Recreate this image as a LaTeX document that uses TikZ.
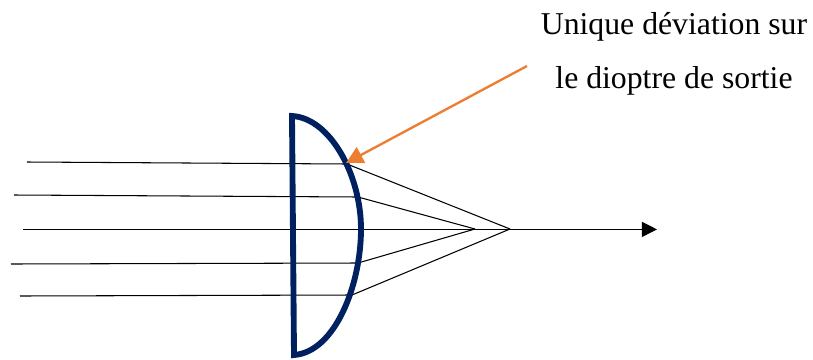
\documentclass[tikz,border=0pt]{standalone}
\usepackage{fontspec}
\setmainfont{Liberation Serif}
\usepackage{xcolor}
\definecolor{lensblue}{RGB}{0,32,96}
\definecolor{calloutorange}{RGB}{237,125,49}
\usetikzlibrary{arrows.meta}
\tikzset{
  ray/.style={black, line width=0.9pt},
  lensline/.style={lensblue, line width=5pt, miter limit=10},
  calloutarrow/.style={calloutorange, line width=2pt, -{Triangle[length=14.5pt, width=15pt]}},
  calloutlabel/.style={font=\fontsize{27.1pt}{30pt}\selectfont, inner sep=0pt, anchor=base}
}

\begin{document}
\begin{tikzpicture}[x=0.03cm, y=-0.03cm]
  \useasboundingbox (0,0) rectangle (813,359);

  % Points on the exit surface
  \coordinate (hit1) at (347,164);
  \coordinate (hit2) at (358,197);
  \coordinate (hit4) at (358,263);
  \coordinate (hit5) at (352,295);
  % Focal points
  \coordinate (focusnear) at (475,229);
  \coordinate (focusfar) at (510,229);

  % Incoming rays
  \coordinate (in1) at (27,162);
  \coordinate (in2) at (14,195);
  \coordinate (in3) at (23,229.4);
  \coordinate (in4) at (11,264);
  \coordinate (in5) at (20,296);
  \coordinate (axisend) at (657,229.4);
  \draw[ray] (in1) -- (hit1) -- (focusfar);
  \draw[ray] (in2) -- (hit2) -- (focusnear);
  \draw[ray] (in4) -- (hit4) -- (focusnear);
  \draw[ray] (in5) -- (hit5) -- (focusfar);
  \draw[ray, -{Triangle[length=13pt, width=13pt]}] (in3) -- (axisend);

  % Lens
  \draw[lensline] (292,116) .. controls (330,118) and (361,175) .. (361,229)
       .. controls (361,285) and (335,352) .. (294,355) -- cycle;

  % Callout
  \node[calloutlabel] (label1) at (674,34) {Unique déviation sur};
  \node[calloutlabel] (label2) at (674,88) {le dioptre de sortie};
  \coordinate (calloutstart) at (527,66);
  \coordinate (callouttip) at (346,163);
  \draw[calloutarrow] (calloutstart) -- (callouttip);
\end{tikzpicture}
\end{document}
